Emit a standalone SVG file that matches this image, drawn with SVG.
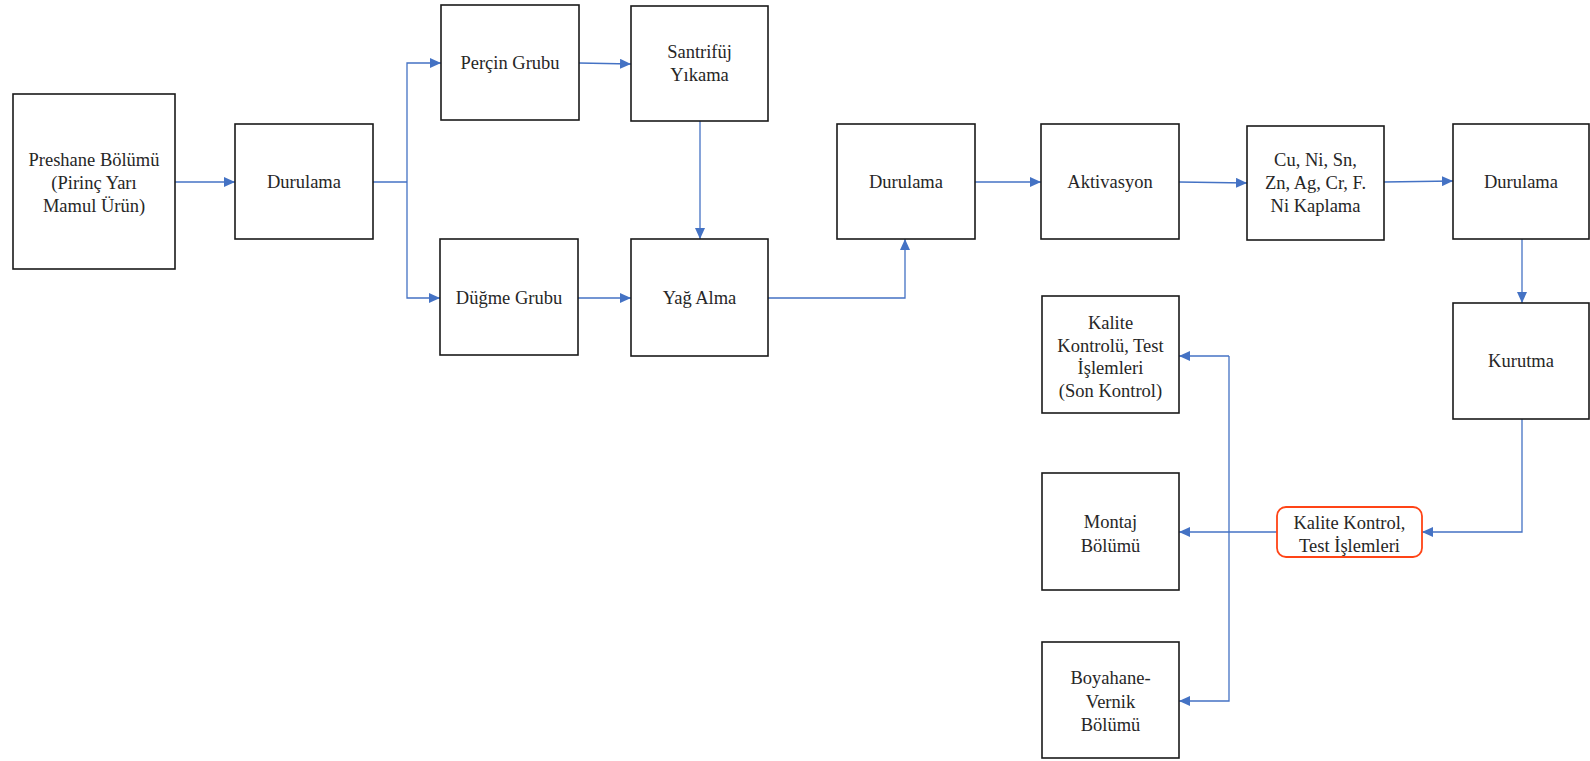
<svg xmlns="http://www.w3.org/2000/svg" width="1590" height="761" viewBox="0 0 1590 761">
<style>
.box{fill:#fff;stroke:#1a1a1a;stroke-width:1.6}
.rbox{fill:#fff;stroke:#ff4416;stroke-width:1.8}
.t{font-family:"Liberation Serif","Times New Roman",serif;font-size:18.5px;fill:#262626;text-anchor:middle}
.c{fill:none;stroke:#4472c4;stroke-width:1.3}
</style>
<defs>
<marker id="ah" markerUnits="userSpaceOnUse" markerWidth="11" markerHeight="10" refX="11" refY="5" orient="auto">
<path d="M0,0 L11,5 L0,10 z" fill="#4472c4"/>
</marker>
</defs>
<rect width="1590" height="761" fill="#fff"/>
<g id="connectors">
<path class="c" d="M175,182 H235" marker-end="url(#ah)"/>
<path class="c" d="M373,182 H407"/>
<path class="c" d="M407,182 V63 H441" marker-end="url(#ah)"/>
<path class="c" d="M407,182 V298 H440" marker-end="url(#ah)"/>
<path class="c" d="M579,63 L631,64" marker-end="url(#ah)"/>
<path class="c" d="M700,121 V239" marker-end="url(#ah)"/>
<path class="c" d="M578,298 H631" marker-end="url(#ah)"/>
<path class="c" d="M768,298 H905 V239" marker-end="url(#ah)"/>
<path class="c" d="M975,182 H1041" marker-end="url(#ah)"/>
<path class="c" d="M1179,182 L1247,183" marker-end="url(#ah)"/>
<path class="c" d="M1384,182 L1453,181" marker-end="url(#ah)"/>
<path class="c" d="M1522,239 V303" marker-end="url(#ah)"/>
<path class="c" d="M1522,419 V532 H1422" marker-end="url(#ah)"/>
<path class="c" d="M1277,532 H1179" marker-end="url(#ah)"/>
<path class="c" d="M1229,356 H1179" marker-end="url(#ah)"/>
<path class="c" d="M1229,356 V701 H1179" marker-end="url(#ah)"/>
</g>
<g id="preshane"><rect class="box" x="13" y="94" width="162" height="175"/>
<text class="t" x="94" y="166">Preshane Bölümü</text><text class="t" x="94" y="189">(Pirinç Yarı</text><text class="t" x="94" y="212">Mamul Ürün)</text></g>
<g id="durulama1"><rect class="box" x="235" y="124" width="138" height="115"/><text class="t" x="304" y="188">Durulama</text></g>
<g id="percin"><rect class="box" x="441" y="5" width="138" height="115"/><text class="t" x="510" y="69">Perçin Grubu</text></g>
<g id="santrifuj"><rect class="box" x="631" y="6" width="137" height="115"/><text class="t" x="699.5" y="58">Santrifüj</text><text class="t" x="699.5" y="81">Yıkama</text></g>
<g id="dugme"><rect class="box" x="440" y="239" width="138" height="116"/><text class="t" x="509" y="304">Düğme Grubu</text></g>
<g id="yagalma"><rect class="box" x="631" y="239" width="137" height="117"/><text class="t" x="699.5" y="304">Yağ Alma</text></g>
<g id="durulama2"><rect class="box" x="837" y="124" width="138" height="115"/><text class="t" x="906" y="188">Durulama</text></g>
<g id="aktivasyon"><rect class="box" x="1041" y="124" width="138" height="115"/><text class="t" x="1110" y="188">Aktivasyon</text></g>
<g id="kaplama"><rect class="box" x="1247" y="126" width="137" height="114"/>
<text class="t" x="1315.5" y="166">Cu, Ni, Sn,</text><text class="t" x="1315.5" y="189">Zn, Ag, Cr, F.</text><text class="t" x="1315.5" y="212">Ni Kaplama</text></g>
<g id="durulama3"><rect class="box" x="1453" y="124" width="136" height="115"/><text class="t" x="1521" y="188">Durulama</text></g>
<g id="kurutma"><rect class="box" x="1453" y="303" width="136" height="116"/><text class="t" x="1521" y="367">Kurutma</text></g>
<g id="kalitekontrolu"><rect class="box" x="1042" y="296" width="137" height="117"/>
<text class="t" x="1110.5" y="329">Kalite</text><text class="t" x="1110.5" y="352">Kontrolü, Test</text><text class="t" x="1110.5" y="374">İşlemleri</text><text class="t" x="1110.5" y="397">(Son Kontrol)</text></g>
<g id="montaj"><rect class="box" x="1042" y="473" width="137" height="117"/>
<text class="t" x="1110.5" y="528">Montaj</text><text class="t" x="1110.5" y="552">Bölümü</text></g>
<g id="boyahane"><rect class="box" x="1042" y="642" width="137" height="116"/>
<text class="t" x="1110.5" y="684">Boyahane-</text><text class="t" x="1110.5" y="708">Vernik</text><text class="t" x="1110.5" y="731">Bölümü</text></g>
<g id="kalitekontrol"><rect class="rbox" x="1277" y="507" width="145" height="50" rx="9" ry="9"/>
<text class="t" x="1349.5" y="529">Kalite Kontrol,</text><text class="t" x="1349.5" y="552">Test İşlemleri</text></g>
</svg>
